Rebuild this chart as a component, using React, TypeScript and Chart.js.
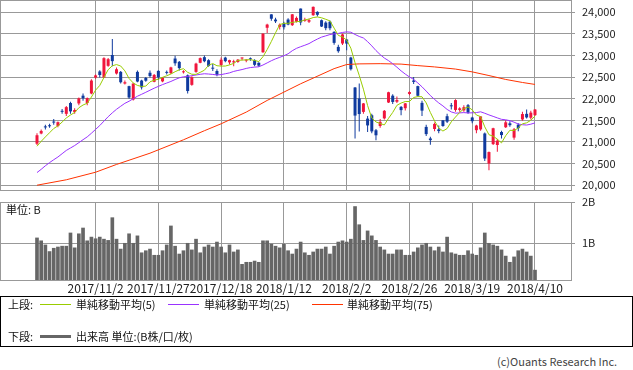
import React, { useEffect, useRef } from "react";
import { Chart, registerables } from "chart.js";

Chart.register(...registerables);

// ---- data ----
const dateLabels = ["2017/11/2", "2017/11/27", "2017/12/18", "2018/1/12", "2018/2/2", "2018/2/26", "2018/3/19", "2018/4/10"];
const dateIndex = [14, 29, 44, 59, 74, 89, 104, 119];

const opens = [20960, 21195, 21360, 21380, 21470, 21370, 21700, 21650, 21900, 21690,
  21890, 22070, 21900, 22120, 22490, 22630, 22490, 22760, 23010, 22582,
  22620, 22350, 22290, 21980, 22620, 22420, 22480, 22600, 22390, 22643,
  22400, 22620, 22590, 22929, 22852, 22610, 22540, 22320, 22620, 22830,
  22960, 22890, 22710, 22640, 22780, 22950, 22840, 22840, 22850, 22930,
  22880, 22920, 22890, 22830, 23073, 23640, 23950, 23830, 23660, 23740,
  23830, 23700, 23780, 24084, 23800, 23780, 23930, 24007, 23815, 23760,
  23780, 23545, 23198, 23276, 23368, 22952, 22259, 22005, 21695, 21540,
  21618, 21270, 21370, 21545, 21912, 22070, 21930, 21810, 21780, 22110,
  22420, 22290, 21904, 21348, 21080, 21300, 21290, 21500, 21595, 21840,
  21740, 21740, 21730, 21850, 21565, 21272, 21290, 21196, 20502, 20950,
  20930, 21230, 21340, 21430, 21100, 21400, 21520, 21650, 21560, 21620];

const highs = [21200, 21290, 21400, 21420, 21530, 21470, 21760, 21830, 21930, 21780,
  22030, 22120, 22030, 22450, 22560, 22660, 22960, 22940, 23382, 22720,
  22640, 22420, 22300, 22360, 22650, 22440, 22500, 22650, 22570, 22660,
  22500, 22650, 22740, 22994, 22870, 22660, 22560, 22520, 22830, 22950,
  23000, 22910, 22800, 22680, 22950, 22970, 22900, 22900, 22920, 22950,
  22910, 22950, 22910, 22840, 23506, 23730, 23952, 23870, 23740, 23780,
  23860, 23960, 23900, 24084, 23870, 23850, 24129, 24020, 23830, 23790,
  23810, 23560, 23250, 23510, 23380, 22970, 22270, 22353, 21900, 21600,
  21650, 21300, 21530, 21740, 22160, 22100, 22050, 21830, 21900, 22170,
  22500, 22300, 21950, 21400, 21120, 21450, 21380, 21510, 21650, 21900,
  21990, 21800, 21850, 21880, 21580, 21400, 21600, 21220, 20780, 21330,
  21070, 21260, 21500, 21480, 21320, 21430, 21700, 21750, 21720, 21760];

const lows = [20930, 21180, 21290, 21330, 21400, 21340, 21650, 21600, 21650, 21650,
  21850, 21950, 21850, 22100, 22460, 22490, 22480, 22740, 22750, 22560,
  22350, 22330, 22000, 21960, 22380, 22213, 22390, 22490, 22380, 22440,
  22380, 22560, 22570, 22760, 22650, 22580, 22120, 22300, 22600, 22820,
  22840, 22740, 22640, 22520, 22750, 22840, 22790, 22750, 22830, 22890,
  22840, 22880, 22750, 22740, 23065, 23520, 23800, 23750, 23600, 23600,
  23700, 23680, 23760, 23700, 23780, 23750, 23920, 23900, 23660, 23580,
  23580, 23250, 23060, 23240, 23120, 22650, 21078, 21240, 21650, 21230,
  21200, 21040, 21330, 21520, 21900, 21880, 21900, 21620, 21730, 22080,
  22340, 22050, 21600, 21140, 20937, 21250, 21200, 21350, 21440, 21750,
  21700, 21700, 21700, 21650, 21430, 21200, 21260, 20560, 20347, 20930,
  20775, 21080, 21320, 21350, 21050, 21250, 21490, 21540, 21520, 21600];

const closes = [21155, 21255, 21336, 21363, 21448, 21457, 21697, 21805, 21707, 21739,
  22008, 22011, 22012, 22420, 22539, 22548, 22937, 22913, 22868, 22681,
  22380, 22380, 22028, 22351, 22397, 22261, 22416, 22523, 22550, 22495,
  22486, 22597, 22724, 22819, 22707, 22622, 22177, 22498, 22811, 22938,
  22866, 22758, 22694, 22553, 22901, 22868, 22891, 22866, 22902, 22939,
  22892, 22911, 22783, 22764, 23506, 23714, 23849, 23788, 23710, 23653,
  23714, 23951, 23868, 23763, 23808, 23816, 24124, 23940, 23669, 23631,
  23629, 23291, 23098, 23486, 23274, 22682, 21610, 21645, 21891, 21382,
  21244, 21154, 21464, 21720, 22149, 21925, 21970, 21736, 21892, 22153,
  22389, 22068, 21724, 21181, 21042, 21417, 21252, 21368, 21469, 21824,
  21968, 21777, 21803, 21676, 21480, 21380, 21591, 20617, 20766, 21317,
  21031, 21159, 21454, 21388, 21292, 21319, 21645, 21567, 21678, 21750];

const ma5 = [20901, 21014, 21116, 21213, 21311, 21372, 21460, 21554, 21623, 21681,
  21791, 21854, 21895, 22038, 22198, 22306, 22491, 22671, 22761, 22789,
  22756, 22644, 22467, 22364, 22307, 22283, 22291, 22390, 22429, 22449,
  22494, 22530, 22570, 22624, 22667, 22694, 22610, 22565, 22563, 22609,
  22658, 22774, 22813, 22762, 22754, 22755, 22781, 22816, 22886, 22893,
  22898, 22902, 22885, 22858, 22971, 23136, 23323, 23524, 23713, 23743,
  23743, 23763, 23779, 23790, 23821, 23841, 23876, 23890, 23871, 23836,
  23799, 23632, 23464, 23427, 23356, 23166, 22830, 22539, 22220, 21842,
  21554, 21463, 21427, 21393, 21546, 21682, 21846, 21900, 21934, 21935,
  22028, 22048, 22045, 21903, 21681, 21486, 21323, 21252, 21310, 21466,
  21576, 21681, 21768, 21810, 21741, 21623, 21586, 21349, 21167, 21134,
  21064, 20978, 21145, 21270, 21265, 21322, 21420, 21442, 21500, 21601];

const ma25 = [20292, 20367, 20449, 20522, 20589, 20652, 20728, 20804, 20860, 20917,
  20984, 21052, 21117, 21201, 21291, 21379, 21482, 21583, 21673, 21755,
  21825, 21893, 21941, 22000, 22057, 22102, 22148, 22196, 22243, 22285,
  22326, 22362, 22399, 22443, 22482, 22507, 22513, 22533, 22548, 22564,
  22577, 22570, 22561, 22548, 22557, 22577, 22597, 22631, 22653, 22674,
  22700, 22720, 22730, 22738, 22779, 22828, 22878, 22921, 22956, 22994,
  23038, 23109, 23164, 23202, 23236, 23274, 23329, 23379, 23424, 23453,
  23483, 23499, 23509, 23532, 23545, 23537, 23485, 23439, 23404, 23319,
  23221, 23113, 23020, 22940, 22880, 22809, 22729, 22644, 22569, 22503,
  22446, 22364, 22275, 22176, 22072, 21983, 21902, 21833, 21752, 21694,
  21665, 21672, 21678, 21670, 21674, 21679, 21697, 21663, 21625, 21591,
  21556, 21523, 21512, 21492, 21457, 21415, 21398, 21391, 21411, 21441];

const ma75Index = [0, 7, 14, 19, 27, 35, 40, 44, 50, 55, 63, 71, 74, 77, 82, 87, 91, 95, 100, 104, 108, 112, 116, 119];
const ma75Value = [20000, 20125, 20300, 20480, 20740, 21050, 21260, 21420, 21690, 21960, 22345, 22695, 22790, 22805, 22810, 22800, 22765, 22735, 22685, 22620, 22535, 22445, 22375, 22330];

const volumes = [1.13, 1.06, 0.96, 0.80, 0.88, 0.91, 0.93, 0.93, 1.25, 0.89,
  1.23, 1.37, 1.06, 1.15, 1.11, 1.15, 1.10, 1.07, 1.62, 1.10,
  0.86, 1.00, 1.23, 1.00, 1.18, 0.77, 0.82, 0.86, 0.71, 0.71,
  0.82, 0.96, 1.42, 0.93, 0.74, 0.82, 1.00, 0.84, 1.10, 0.77,
  0.91, 0.96, 0.91, 1.03, 0.91, 0.77, 0.96, 0.79, 0.84, 0.49,
  0.54, 0.54, 0.57, 0.54, 1.06, 1.06, 0.98, 0.93, 0.89, 0.98,
  0.82, 0.74, 0.86, 1.03, 0.77, 0.71, 0.79, 0.86, 0.86, 0.91,
  0.74, 0.93, 1.03, 1.06, 1.03, 1.10, 1.89, 1.45, 1.07, 1.30,
  1.18, 1.07, 0.91, 0.84, 0.74, 0.74, 0.84, 0.84, 0.71, 0.71,
  0.79, 0.89, 0.96, 1.00, 0.91, 0.82, 0.91, 0.79, 1.15, 0.77,
  0.74, 0.71, 0.71, 0.82, 0.74, 0.71, 0.89, 1.25, 1.00, 0.96,
  0.93, 0.84, 0.69, 0.54, 0.67, 0.82, 0.86, 0.79, 0.69, 0.35];

const priceTicks = [20000, 20500, 21000, 21500, 22000, 22500, 23000, 23500, 24000];
const volumeTicks = [1, 2];

// ---- styles ----
const X_MIN = -8.8414;
const X_MAX = 127.603;
const GRID = "#999999";
const UP = "#f0163c";
const DOWN = "#0f3a9e";
const FONT = "'Noto Sans CJK JP', 'Noto Sans', sans-serif";

const framePlugin = {
  id: "frame",
  afterDraw(chart: any) {
    const { ctx, chartArea } = chart;
    ctx.save();
    ctx.strokeStyle = GRID;
    ctx.lineWidth = 1;
    ctx.strokeRect(chartArea.left + 0.5, chartArea.top + 0.5, chartArea.right - chartArea.left, chartArea.bottom - chartArea.top);
    ctx.restore();
  },
};

function xAxis(showLabels: boolean, height: number) {
  return {
    type: "linear" as const,
    min: X_MIN,
    max: X_MAX,
    offset: false,
    grid: { color: GRID, drawTicks: false, offset: false },
    border: { display: false },
    ticks: {
      display: showLabels,
      autoSkip: false,
      maxRotation: 0,
      minRotation: 0,
      padding: 1,
      color: "#222",
      font: { size: 12, family: FONT },
      callback: (v: any) => {
        const k = dateIndex.indexOf(Number(v));
        return k >= 0 ? dateLabels[k] : "";
      },
    },
    afterBuildTicks: (s: any) => {
      s.ticks = dateIndex.map((v) => ({ value: v }));
    },
    afterFit: (s: any) => {
      s.height = height;
      s.paddingLeft = 0;
      s.paddingRight = 0;
    },
  };
}

export default function App() {
  const mainRef = useRef<HTMLCanvasElement>(null);
  const volRef = useRef<HTMLCanvasElement>(null);

  useEffect(() => {
    Chart.defaults.font.family = FONT;
    const colors = opens.map((o, i) => (closes[i] > o ? UP : DOWN));

    const main = new Chart(mainRef.current as HTMLCanvasElement, {
      type: "bar",
      data: {
        datasets: [
          {
            type: "line",
            data: ma5.map((y, i) => ({ x: i, y })),
            borderColor: "#99cc00",
            borderWidth: 1,
            pointRadius: 0,
            order: 0,
          } as any,
          {
            type: "line",
            data: ma25.map((y, i) => ({ x: i, y })),
            borderColor: "#9933ff",
            borderWidth: 1,
            pointRadius: 0,
            order: 0,
          } as any,
          {
            type: "line",
            data: ma75Index.map((x, k) => ({ x, y: ma75Value[k] })),
            borderColor: "#ff3300",
            borderWidth: 1,
            pointRadius: 0,
            order: 0,
          } as any,
          {
            type: "bar",
            data: opens.map((o, i) => ({ x: i, y: [o, closes[i]] })),
            backgroundColor: colors,
            grouped: false,
            maxBarThickness: 3,
            minBarLength: 1,
            borderWidth: 0,
            order: 1,
          } as any,
          {
            type: "bar",
            data: lows.map((l, i) => ({ x: i, y: [l, highs[i]] })),
            backgroundColor: colors,
            grouped: false,
            maxBarThickness: 1,
            borderWidth: 0,
            order: 2,
          } as any,
        ],
      },
      options: {
        animation: false,
        responsive: false,
        events: [],
        layout: { padding: { left: 0, right: 0, top: 0, bottom: 2 } },
        plugins: { legend: { display: false }, tooltip: { enabled: false } },
        scales: {
          x: xAxis(false, 0) as any,
          y: {
            position: "right",
            min: 19889,
            max: 24282,
            grid: { color: GRID, tickLength: 4 },
            border: { display: false },
            ticks: {
              padding: 7,
              color: "#222",
              font: { size: 11, family: FONT },
              callback: (v: any) => Number(v).toLocaleString("en-US"),
            },
            afterBuildTicks: (s: any) => {
              s.ticks = priceTicks.map((v) => ({ value: v }));
            },
            afterFit: (s: any) => {
              s.width = 62;
              s.paddingTop = 0;
              s.paddingBottom = 0;
            },
          } as any,
        },
      },
      plugins: [framePlugin],
    });

    const vol = new Chart(volRef.current as HTMLCanvasElement, {
      type: "bar",
      data: {
        datasets: [
          {
            data: volumes.map((v, i) => ({ x: i, y: v })),
            backgroundColor: "#666666",
            barThickness: 3,
            borderWidth: 0,
            clip: 0,
          } as any,
        ],
      },
      options: {
        animation: false,
        responsive: false,
        events: [],
        layout: { padding: { left: 0, right: 0, top: 10, bottom: 0 } },
        plugins: { legend: { display: false }, tooltip: { enabled: false } },
        scales: {
          x: xAxis(true, 22) as any,
          y: {
            position: "right",
            min: 0.111,
            max: 2.0,
            grid: { color: GRID, tickLength: 4 },
            border: { display: false },
            ticks: {
              padding: 7,
              color: "#222",
              font: { size: 11, family: FONT },
              callback: (v: any) => `${v}B`,
            },
            afterBuildTicks: (s: any) => {
              s.ticks = volumeTicks.map((v) => ({ value: v }));
            },
            afterFit: (s: any) => {
              s.width = 62;
              s.paddingTop = 0;
              s.paddingBottom = 0;
            },
          } as any,
        },
      },
      plugins: [framePlugin],
    });

    return () => {
      main.destroy();
      vol.destroy();
    };
  }, []);

  const text: React.CSSProperties = {
    position: "absolute",
    fontFamily: FONT,
    fontSize: 11,
    lineHeight: "16px",
    height: 16,
    whiteSpace: "nowrap",
    color: "#111",
  };
  const row1 = 304;
  const row2 = 336;

  return (
    <div style={{ position: "absolute", left: 0, top: 0, width: 633, height: 370, background: "#fff", overflow: "hidden" }}>
      <canvas ref={mainRef} width={633} height={192} style={{ position: "absolute", left: 0, top: 0, display: "block" }} />
      <canvas ref={volRef} width={633} height={110} style={{ position: "absolute", left: 0, top: 192, display: "block" }} />
      <div style={{ ...text, left: 6, top: 201 }}>単位: B</div>

      <div style={{ position: "absolute", left: 0, top: 296, width: 633, height: 51, border: "1px solid #000", boxSizing: "border-box" }} />
      <div style={{ ...text, left: 8, top: row1 - 8 }}>上段:</div>
      <div style={{ position: "absolute", left: 40, top: row1, width: 31, height: 1, background: "#99cc00" }} />
      <div style={{ ...text, left: 76, top: row1 - 8 }}>単純移動平均(5)</div>
      <div style={{ position: "absolute", left: 168, top: row1, width: 31, height: 1, background: "#9933ff" }} />
      <div style={{ ...text, left: 204, top: row1 - 8 }}>単純移動平均(25)</div>
      <div style={{ position: "absolute", left: 312, top: row1, width: 31, height: 1, background: "#ff3300" }} />
      <div style={{ ...text, left: 347, top: row1 - 8 }}>単純移動平均(75)</div>

      <div style={{ ...text, left: 8, top: row2 - 8 }}>下段:</div>
      <div style={{ position: "absolute", left: 40, top: row2 - 1, width: 31, height: 3, background: "#666666" }} />
      <div style={{ ...text, left: 76, top: row2 - 8 }}>出来高 単位:(B株/口/枚)</div>

      <div style={{ ...text, left: 497, top: 353, color: "#444" }}>(c)Ouants Research Inc.</div>
    </div>
  );
}
